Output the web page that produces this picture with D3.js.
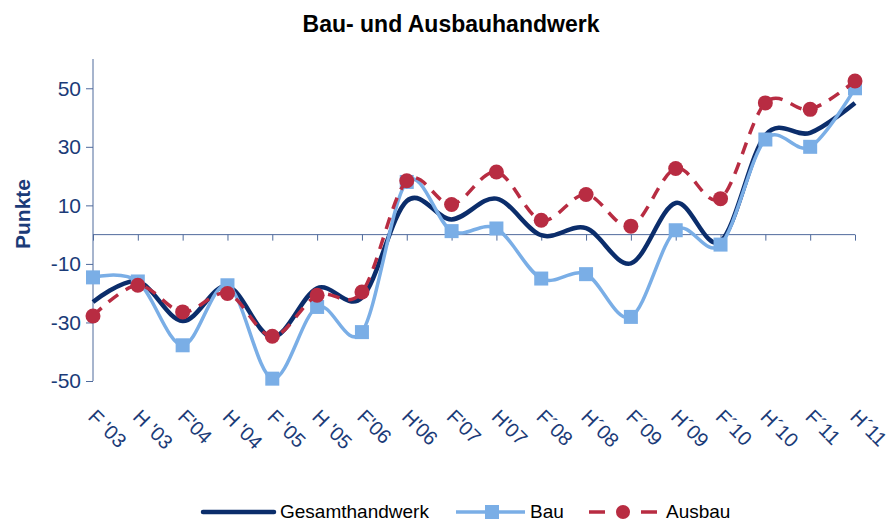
<!DOCTYPE html>
<html>
<head>
<meta charset="utf-8">
<script src="https://cdn.jsdelivr.net/npm/d3@7"></script>
<style>
	body { margin: 0; background: #fff; }
	text { font-family: Arial, 'Liberation Sans', sans-serif; }
</style>
</head>
<body>
<script>
var width  = 892
var height = 521

// Halbjahre (F = Frühjahr, H = Herbst)
var periods = ["F '03", "H '03", "F'04", "H '04", "F '05", "H '05", "F'06", "H'06", "F'07",
	"H'07", "F´08", "H´08", "F´09", "H´09", "F´10", "H´10", "F´11", "H´11"]

var gesamt = [-23, -16, -29.5, -17.6, -35, -18.3, -21.5, 11.5, 5.2, 12.3, -0.2, 2.2, -9.8, 10.8, -2.3, 34, 34.8, 45]
var bau    = [-14.6, -16, -37.8, -17.3, -49.2, -24.7, -33.3, 18, 1.2, 2.1, -15, -13.5, -28.1, 1.5, -3.4, 32.5, 30, 50]
var ausbau = [-27.8, -17.3, -26.4, -20.1, -34.7, -20.7, -19.6, 18.4, 10.3, 21.4, 4.9, 13.7, 2.9, 22.6, 12.3, 45, 42.8, 52.5]

var yTicks = [50, 30, 10, -10, -30, -50]

var navy   = '#0b2d6b'
var light  = '#7aaee6'
var red    = '#b82c42'
var axisC  = '#4f6a9c'
var labelC = '#1b3b78'

var svg = d3.select('body')
	.append('svg')
	.attr('width', width)
	.attr('height', height)

var xScale = d3.scalePoint()
	.domain(periods)
	.range([93, 855])

var yScale = d3.scaleLinear()
	.domain([-50, 60])
	.range([381, 59])

// Titel
svg.append('text')
	.attr('x', 451)
	.attr('y', 32)
	.attr('text-anchor', 'middle')
	.style('font-size', '23px')
	.style('font-weight', 'bold')
	.attr('fill', '#000')
	.text('Bau- und Ausbauhandwerk')

// y-Achse
var yAxis = d3.axisLeft(yScale)
	.tickValues(yTicks)
	.tickSize(7)
	.tickPadding(5)
	.tickFormat(d3.format('d'))

var gy = svg.append('g')
	.attr('transform', 'translate(' + [xScale(periods[0]), 0] + ')')
	.call(yAxis)

gy.select('.domain').attr('stroke', axisC).attr('d', 'M0,' + yScale(60) + 'V' + yScale(-50))
gy.selectAll('.tick line').attr('stroke', axisC)
gy.selectAll('.tick text')
	.attr('fill', labelC)
	.style('font-size', '21px')
	.style('font-family', 'Arial, Liberation Sans, sans-serif')
	.text(d => d < 0 ? '-' + Math.abs(d) : d)

svg.append('text')
	.attr('transform', 'translate(30,' + 214 + ') rotate(-90)')
	.attr('text-anchor', 'middle')
	.style('font-size', '21px')
	.style('font-weight', 'bold')
	.attr('fill', labelC)
	.text('Punkte')

// x-Achse auf der Nulllinie
var xAxis = d3.axisBottom(xScale)
	.tickSize(6)
	.tickFormat('')

var gx = svg.append('g')
	.attr('transform', 'translate(' + [0, yScale(0)] + ')')
	.call(xAxis)

gx.select('.domain').attr('stroke', axisC).attr('d', 'M' + xScale.range()[0] + ',0H' + xScale.range()[1])
gx.selectAll('.tick line').attr('stroke', axisC)

svg.append('g')
	.selectAll('text')
	.data(periods)
	.enter()
	.append('text')
	.attr('transform', d => 'translate(' + [xScale(d) - 6, 418] + ') rotate(45)')
	.attr('fill', labelC)
	.style('font-size', '20px')
	.text(d => d)

// Linien
var line = d3.line()
	.x((d, i) => xScale(periods[i]))
	.y(d => yScale(d))
	.curve(d3.curveCardinal.tension(0))

svg.append('path')
	.datum(gesamt)
	.attr('d', line)
	.attr('fill', 'none')
	.attr('stroke', navy)
	.attr('stroke-width', 4.5)

svg.append('path')
	.datum(bau)
	.attr('d', line)
	.attr('fill', 'none')
	.attr('stroke', light)
	.attr('stroke-width', 3.5)

svg.append('g')
	.selectAll('rect')
	.data(bau)
	.enter()
	.append('rect')
	.attr('x', (d, i) => xScale(periods[i]) - 7)
	.attr('y', d => yScale(d) - 7)
	.attr('width', 14)
	.attr('height', 14)
	.attr('fill', light)

svg.append('path')
	.datum(ausbau)
	.attr('d', line)
	.attr('fill', 'none')
	.attr('stroke', red)
	.attr('stroke-width', 3.5)
	.attr('stroke-dasharray', '12,9')

svg.append('g')
	.selectAll('circle')
	.data(ausbau)
	.enter()
	.append('circle')
	.attr('cx', (d, i) => xScale(periods[i]))
	.attr('cy', d => yScale(d))
	.attr('r', 7.5)
	.attr('fill', red)

// Legende
var legendY = 512
var legend = svg.append('g')

legend.append('line')
	.attr('x1', 203).attr('x2', 274)
	.attr('y1', legendY).attr('y2', legendY)
	.attr('stroke', navy)
	.attr('stroke-width', 4.5)
	.attr('stroke-linecap', 'round')

legend.append('line')
	.attr('x1', 456).attr('x2', 525)
	.attr('y1', legendY).attr('y2', legendY)
	.attr('stroke', light)
	.attr('stroke-width', 3.5)

legend.append('rect')
	.attr('x', 492 - 7).attr('y', legendY - 7)
	.attr('width', 14).attr('height', 14)
	.attr('fill', light)

legend.append('line')
	.attr('x1', 589).attr('x2', 657)
	.attr('y1', legendY).attr('y2', legendY)
	.attr('stroke', red)
	.attr('stroke-width', 3.5)
	.attr('stroke-dasharray', '16,36,16')

legend.append('circle')
	.attr('cx', 623).attr('cy', legendY)
	.attr('r', 7)
	.attr('fill', red)

var legendItems = [['Gesamthandwerk', 280], ['Bau', 530], ['Ausbau', 666]]

legend.selectAll('text')
	.data(legendItems)
	.enter()
	.append('text')
	.attr('x', d => d[1])
	.attr('y', legendY + 6)
	.attr('fill', '#000')
	.style('font-size', '19px')
	.text(d => d[0])
</script>
</body>
</html>
